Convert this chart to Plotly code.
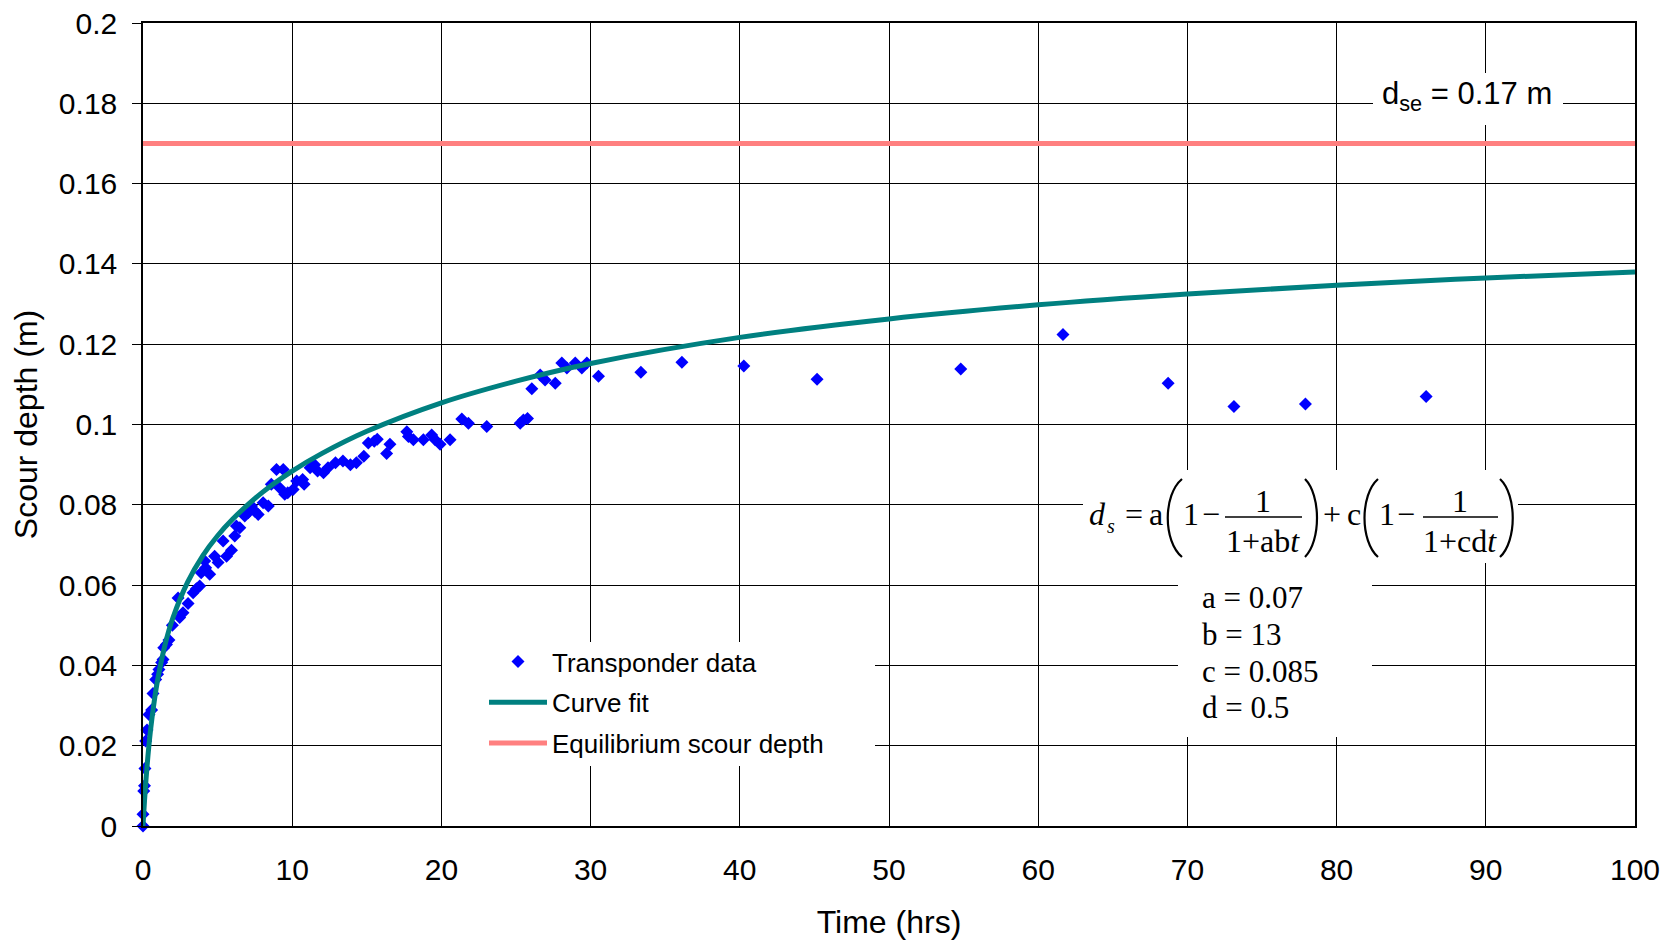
import plotly.graph_objects as go

# ---------------- data ----------------
transponder_t = [0, 0, 0.05, 0.1, 0.13, 0.18, 0.27, 0.4, 0.58, 0.67, 0.85, 0.98, 1.07, 1.25, 1.34,
                 1.39, 1.57, 1.74, 1.97, 2.35, 2.46, 2.68, 3.02, 3.36, 3.58, 3.80, 3.90, 4.14, 4.20,
                 4.47, 4.80, 5.03, 5.37, 5.60, 5.93, 6.15, 6.26, 6.49, 6.82, 7.05, 7.27, 7.50, 7.72,
                 8.05, 8.40, 8.60, 8.95, 9.17, 9.40, 9.50, 9.70, 10.06, 10.30, 10.70, 10.80, 11.20,
                 11.50, 11.70, 12.10, 12.40, 12.90, 13.40, 13.90, 14.30, 14.80, 15.10, 15.50, 15.70,
                 16.33, 16.55, 17.68, 17.79, 18.12, 18.79, 19.35, 19.58, 19.91, 20.58, 21.37, 21.81,
                 23.04, 25.28, 25.50, 25.77, 26.06, 26.62, 26.95, 27.63, 28.07, 28.41, 28.97, 29.41,
                 29.75, 30.53, 33.37, 36.12, 40.27, 45.18, 54.81, 61.66, 68.71, 73.12, 77.91, 86.00]
transponder_d = [0, 0.0029, 0.0087, 0.0100, 0.0143, 0.0212, 0.0239, 0.0278, 0.0289, 0.0330, 0.0365,
                 0.0378, 0.0390, 0.0407, 0.0415, 0.0444, 0.0452, 0.0463, 0.0500, 0.0568, 0.0519,
                 0.0531, 0.0554, 0.0581, 0.0591, 0.0598, 0.0631, 0.0660, 0.0643, 0.0627, 0.0672,
                 0.0656, 0.0710, 0.0672, 0.0687, 0.0722, 0.0747, 0.0743, 0.0772, 0.0780, 0.0797,
                 0.0784, 0.0776, 0.0805, 0.0797, 0.0851, 0.0888, 0.0842, 0.0888, 0.0826, 0.0830,
                 0.0838, 0.0859, 0.0863, 0.0851, 0.0892, 0.0900, 0.0884, 0.0880, 0.0892, 0.0905,
                 0.0909, 0.0900, 0.0905, 0.0921, 0.0954, 0.0958, 0.0963, 0.0928, 0.0951, 0.0982,
                 0.0970, 0.0962, 0.0962, 0.0974, 0.0962, 0.0951, 0.0962, 0.1014, 0.1003, 0.0995,
                 0.1003, 0.1011, 0.1015, 0.1089, 0.1123, 0.1111, 0.1103, 0.1153, 0.1141, 0.1153,
                 0.1141, 0.1153, 0.1120, 0.1130, 0.1155, 0.1146, 0.1113, 0.1138, 0.1224, 0.1103,
                 0.1045, 0.1051, 0.1070]

fit_t = [0, 0.05, 0.1, 0.25, 0.5, 0.75, 1, 1.5, 2, 3, 4, 5, 6, 8, 10, 12, 15, 20, 25, 30, 40, 50,
         60, 70, 80, 90, 100]
fit_d = [0, 0.0032, 0.0062, 0.0139, 0.0237, 0.0310, 0.0368, 0.0455, 0.0518, 0.0608, 0.0673, 0.0723,
         0.0764, 0.0831, 0.0884, 0.0928, 0.0983, 0.1054, 0.1108, 0.1152, 0.1217, 0.1263, 0.1298,
         0.1325, 0.1347, 0.1365, 0.1380]

equil_t = [0, 100]
equil_d = [0.17, 0.17]

x_ticks = [0, 10, 20, 30, 40, 50, 60, 70, 80, 90, 100]
y_ticks = [0, 0.02, 0.04, 0.06, 0.08, 0.1, 0.12, 0.14, 0.16, 0.18, 0.2]
y_labels = ["0", "0.02", "0.04", "0.06", "0.08", "0.1", "0.12", "0.14", "0.16", "0.18", "0.2"]

# ---------------- layout helpers ----------------
# target screen geometry (the page body adds an 8px margin)
OFF = 8
SW, SH = 1675, 945
L, R, T, B = 143, 1635, 23, 826
W, H = SW - OFF, SH - OFF


def px(x):
    return (x - L) / (R - L)


def py(y):
    return (B - y) / (B - T)


SANS = "Liberation Sans, Arial, sans-serif"
SERIF = "Liberation Serif, Times New Roman, serif"

fig = go.Figure()
fig.add_trace(go.Scatter(x=transponder_t, y=transponder_d, mode="markers", name="Transponder data",
                         marker=dict(symbol="diamond", size=10, color="#0000FF"),
                         cliponaxis=False, legendgroup="a"))
fig.add_trace(go.Scatter(x=fit_t, y=fit_d, mode="lines", name="Curve fit", line_shape="spline",
                         line=dict(color="#008080", width=5), legendgroup="b"))
fig.add_trace(go.Scatter(x=equil_t, y=equil_d, mode="lines", name="Equilibrium scour depth",
                         line=dict(color="#FF8080", width=5), legendgroup="c"))

shapes = []


def white_box(x0, y0, x1, y1):
    shapes.append(dict(type="rect", xref="paper", yref="paper", x0=px(x0), x1=px(x1),
                       y0=py(y1), y1=py(y0), fillcolor="white", line=dict(width=0),
                       layer="above"))


white_box(442, 642, 875, 766)      # legend box
white_box(1083, 470, 1518, 563)    # equation box
white_box(1178, 563, 1372, 737)    # parameter box
white_box(1373, 73, 1563, 125)     # d_se label box


def curve(pts, width=2.2):
    (x0, y0), (x1, y1), (x2, y2), (x3, y3) = pts
    path = "M {} {} C {} {} {} {} {} {}".format(px(x0), py(y0), px(x1), py(y1),
                                                px(x2), py(y2), px(x3), py(y3))
    shapes.append(dict(type="path", xref="paper", yref="paper", path=path, layer="above",
                       line=dict(color="black", width=width)))


def hline(x0, x1, y, width=1.4):
    shapes.append(dict(type="line", xref="paper", yref="paper", x0=px(x0), x1=px(x1),
                       y0=py(y), y1=py(y), layer="above", line=dict(color="black", width=width)))


# parentheses
curve([(1182, 479), (1163, 495), (1163, 541), (1182, 557)])
curve([(1305, 479), (1321, 495), (1321, 541), (1305, 557)])
curve([(1378, 479), (1360, 495), (1360, 541), (1378, 557)])
curve([(1500, 479), (1517, 495), (1517, 541), (1500, 557)])
# fraction bars
hline(1225, 1302, 517)
hline(1423, 1498, 517)

annotations = []


def text(x, y, s, size=32, family=SERIF, xanchor="center"):
    annotations.append(dict(x=px(x), y=py(y), xref="paper", yref="paper", text=s, showarrow=False,
                            xanchor=xanchor, yanchor="middle",
                            font=dict(family=family, size=size, color="black")))


EQ = 32
row = 525 - 0.33 * EQ
text(1097, row, "<i>d</i>")
text(1111, 533 - 0.33 * 20, "<i>s</i>", size=20)
text(1134, row, "=")
text(1155.5, row, "a")
text(1191, row, "1")
text(1210.5, row, "\u2212")
text(1263, 512 - 0.33 * EQ, "1")
text(1263, 552 - 0.33 * EQ, "1+ab<i>t</i>")
text(1332, row, "+")
text(1353.5, row, "c")
text(1387, row, "1")
text(1405.5, row, "\u2212")
text(1460, 512 - 0.33 * EQ, "1")
text(1460, 552 - 0.33 * EQ, "1+cd<i>t</i>")

PS = 31
for yb, s in [(608, "a = 0.07"), (645, "b = 13"), (682, "c = 0.085"), (718, "d = 0.5")]:
    text(1200, yb - 0.33 * PS, s, size=PS, xanchor="left")

text(1467, 105 - 0.33 * 31 + 1, "d<sub>se</sub> = 0.17 m", size=31, family=SANS)

fig.update_layout(
    width=W, height=H,
    margin=dict(l=L - OFF, r=SW - R, t=T - OFF, b=SH - B, autoexpand=False),
    paper_bgcolor="white", plot_bgcolor="white",
    font=dict(family=SANS, size=30, color="black"),
    shapes=shapes, annotations=annotations,
    legend=dict(x=px(484), y=py(638), xanchor="left", yanchor="top",
                bgcolor="rgba(0,0,0,0)", font=dict(size=26, family=SANS),
                tracegroupgap=4, itemwidth=58, traceorder="grouped"),
    showlegend=True,
)
fig.update_xaxes(range=[0, 100], tickvals=x_ticks, showgrid=True, gridcolor="black", gridwidth=1,
                 showline=True, linecolor="black", linewidth=1.5, mirror=True, ticks="",
                 zeroline=False, tickfont=dict(size=30), ticklabelstandoff=16, automargin=False,
                 ticklabeloverflow="allow",
                 title=dict(text="Time (hrs)", font=dict(size=32), standoff=26))
fig.update_yaxes(range=[0, 0.2], tickvals=y_ticks, ticktext=y_labels, showgrid=True,
                 gridcolor="black", gridwidth=1, showline=True, linecolor="black", linewidth=1.5,
                 mirror=True, ticks="outside", ticklen=9, tickcolor="black", zeroline=False,
                 tickfont=dict(size=30), ticklabelstandoff=9, automargin=False,
                 ticklabeloverflow="allow",
                 title=dict(text="Scour depth (m)", font=dict(size=32), standoff=13))

fig.write_html("out.html")
